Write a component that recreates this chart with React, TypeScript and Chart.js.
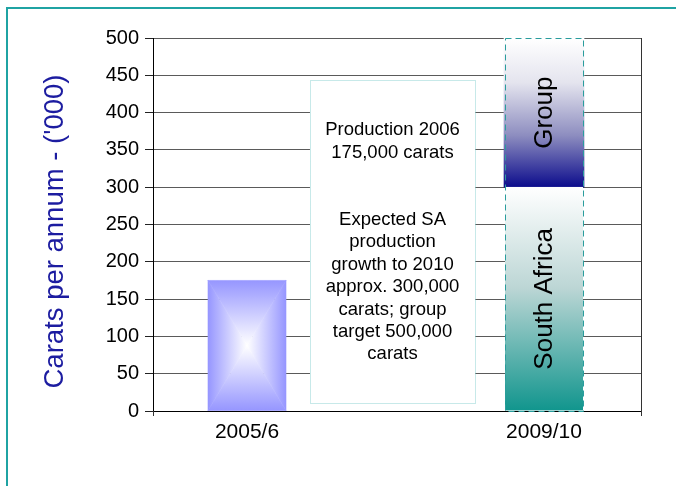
import React, { useEffect, useRef } from "react";
import { Chart, registerables } from "chart.js";

Chart.register(...registerables);

// Categories along the x axis and the values drawn for each.
const categories = ["2005/6", "2009/10"];
const production2006 = [175, null];
const southAfrica = [null, 300];
const groupTarget = [null, 200];
const yTickValues = [0, 50, 100, 150, 200, 250, 300, 350, 400, 450, 500];
const yTitle = "Carats per annum - ('000)";
const noteLines = [
  "Production 2006",
  "175,000 carats",
  "",
  "",
  "Expected SA",
  "production",
  "growth to 2010",
  "approx. 300,000",
  "carats; group",
  "target 500,000",
  "carats",
];

const FONT = "'Liberation Sans', Arial, sans-serif";
const TEAL = "#1fa3a3";

const toPoints = (arr: (number | null)[]) =>
  arr
    .map((v, i) => (v === null ? null : { x: i, y: v }))
    .filter((p) => p !== null) as { x: number; y: number }[];

// Fill a rectangle with a "from centre" gradient: edge colour fading to the centre colour.
function fillRectGradient(
  ctx: CanvasRenderingContext2D,
  l: number,
  t: number,
  r: number,
  b: number,
  edge: string,
  center: string
) {
  const cx = (l + r) / 2;
  const cy = (t + b) / 2;
  const parts: [number, number, number, number, CanvasGradient][] = [
    [l, t, r, t, ctx.createLinearGradient(0, t, 0, cy)],
    [r, b, l, b, ctx.createLinearGradient(0, b, 0, cy)],
    [l, t, l, b, ctx.createLinearGradient(l, 0, cx, 0)],
    [r, t, r, b, ctx.createLinearGradient(r, 0, cx, 0)],
  ];
  for (const [x1, y1, x2, y2, g] of parts) {
    g.addColorStop(0, edge);
    g.addColorStop(1, center);
    ctx.fillStyle = g;
    ctx.strokeStyle = g;
    ctx.lineWidth = 0.6;
    ctx.beginPath();
    ctx.moveTo(x1, y1);
    ctx.lineTo(x2, y2);
    ctx.lineTo(cx, cy);
    ctx.closePath();
    ctx.fill();
    ctx.stroke();
  }
}

const decorPlugin = {
  id: "decor",
  beforeDraw(chart: any) {
    const ctx: CanvasRenderingContext2D = chart.ctx;
    ctx.save();
    // teal frame along the left and top edges
    ctx.strokeStyle = TEAL;
    ctx.lineWidth = 2;
    ctx.beginPath();
    ctx.moveTo(7, chart.height);
    ctx.lineTo(7, 8);
    ctx.lineTo(chart.width, 8);
    ctx.stroke();

    // y axis title
    const area = chart.chartArea;
    ctx.fillStyle = "#1c1ca0";
    ctx.font = `27.5px ${FONT}`;
    ctx.textAlign = "center";
    ctx.textBaseline = "middle";
    ctx.translate(55, (area.top + area.bottom) / 2 + 7);
    ctx.rotate(-Math.PI / 2);
    ctx.fillText(yTitle, 0, 0);
    ctx.restore();
  },
  afterDatasetDraw(chart: any, args: any) {
    if (args.index !== 0) return;
    const ctx: CanvasRenderingContext2D = chart.ctx;
    const meta = chart.getDatasetMeta(0);
    ctx.save();
    for (const el of meta.data) {
      const { x, y, base, width } = el.getProps(["x", "y", "base", "width"], true);
      fillRectGradient(ctx, x - width / 2, y, x + width / 2, base, "#9696ff", "#ffffff");
    }
    ctx.restore();
  },
  afterDatasetsDraw(chart: any) {
    const ctx: CanvasRenderingContext2D = chart.ctx;
    const xs = chart.scales.x;
    const ys = chart.scales.y;
    const area = chart.chartArea;
    ctx.save();

    // right frame of the plot and small end ticks below the axis
    ctx.strokeStyle = "#333";
    ctx.lineWidth = 1;
    ctx.beginPath();
    ctx.moveTo(area.right + 0.5, area.top);
    ctx.lineTo(area.right + 0.5, area.bottom + 5);
    ctx.moveTo(area.left + 0.5, area.bottom);
    ctx.lineTo(area.left + 0.5, area.bottom + 5);
    ctx.stroke();

    // note box between the two columns
    const bx0 = xs.getPixelForValue(0.212);
    const bx1 = xs.getPixelForValue(0.768);
    const by0 = ys.getPixelForValue(444);
    const by1 = ys.getPixelForValue(11);
    ctx.fillStyle = "#ffffff";
    ctx.fillRect(bx0, by0, bx1 - bx0, by1 - by0);
    ctx.strokeStyle = "#8fd3d3";
    ctx.setLineDash([1, 1]);
    ctx.strokeRect(Math.round(bx0) + 0.5, Math.round(by0) + 0.5, Math.round(bx1 - bx0), Math.round(by1 - by0));
    ctx.setLineDash([]);
    ctx.fillStyle = "#000";
    ctx.font = `18.5px ${FONT}`;
    ctx.textAlign = "center";
    ctx.textBaseline = "middle";
    const lh = 22.4;
    const cx = (bx0 + bx1) / 2;
    const cy = (by0 + by1) / 2 + 1;
    noteLines.forEach((line, i) => {
      ctx.fillText(line, cx, cy + (i - (noteLines.length - 1) / 2) * lh);
    });

    // dashed outline of the 2009/10 column and rotated segment labels
    const saMeta = chart.getDatasetMeta(1);
    const grMeta = chart.getDatasetMeta(2);
    saMeta.data.forEach((saEl: any, i: number) => {
      const sa = saEl.getProps(["x", "y", "base", "width"], true);
      const gr = grMeta.data[i].getProps(["x", "y", "base", "width"], true);
      ctx.strokeStyle = "#2a9d9d";
      ctx.lineWidth = 1;
      ctx.setLineDash([6, 4]);
      ctx.strokeRect(
        Math.round(sa.x - sa.width / 2) + 0.5,
        Math.round(gr.y) + 0.5,
        Math.round(sa.width),
        Math.round(sa.base - gr.y)
      );
      ctx.setLineDash([]);

      ctx.fillStyle = "#000";
      ctx.font = `26px ${FONT}`;
      ctx.textAlign = "center";
      ctx.textBaseline = "middle";
      const drawRot = (text: string, x: number, y: number) => {
        ctx.save();
        ctx.translate(x, y);
        ctx.rotate(-Math.PI / 2);
        ctx.fillText(text, 0, 1);
        ctx.restore();
      };
      drawRot(chart.data.datasets[2].label, gr.x, (gr.y + gr.base) / 2);
      drawRot(chart.data.datasets[1].label, sa.x, (sa.y + sa.base) / 2);
    });
    ctx.restore();
  },
};

export default function App() {
  const canvasRef = useRef<HTMLCanvasElement | null>(null);

  useEffect(() => {
    if (!canvasRef.current) return;

    const stackGradient = (fromVal: (c: any) => number, toVal: (c: any) => number, stops: [number, string][]) =>
      (c: any) => {
        const ys = c.chart.scales?.y;
        if (!ys || c.parsed == null) return stops[stops.length - 1][1];
        const top = ys.getPixelForValue(toVal(c));
        const bottom = ys.getPixelForValue(fromVal(c));
        if (!isFinite(top) || !isFinite(bottom)) return stops[stops.length - 1][1];
        const g = c.chart.ctx.createLinearGradient(0, top, 0, bottom);
        stops.forEach(([o, col]) => g.addColorStop(o, col));
        return g;
      };

    const chart = new Chart(canvasRef.current, {
      type: "bar",
      data: {
        datasets: [
          {
            label: "Production 2006",
            data: toPoints(production2006),
            backgroundColor: "rgba(0,0,0,0)",
            barThickness: 78,
          },
          {
            label: "South Africa",
            data: toPoints(southAfrica),
            backgroundColor: stackGradient(
              () => 0,
              (c) => c.parsed.y,
              [
                [0, "#ffffff"],
                [0.45, "#bcd6d5"],
                [1, "#10958d"],
              ]
            ),
            borderColor: "#ffffff",
            borderWidth: { top: 3, left: 0, right: 0, bottom: 0 },
            borderSkipped: false,
            barThickness: 78,
          },
          {
            label: "Group",
            data: toPoints(groupTarget),
            backgroundColor: stackGradient(
              (c) => southAfrica[c.parsed.x] ?? 0,
              (c) => (southAfrica[c.parsed.x] ?? 0) + c.parsed.y,
              [
                [0, "#ffffff"],
                [0.3, "#e4e4ee"],
                [0.65, "#8e8ec0"],
                [1, "#0c0c8c"],
              ]
            ),
            barThickness: 80,
          },
        ],
      },
      options: {
        animation: false,
        responsive: false,
        layout: { padding: { top: 38, right: 35, left: 0, bottom: 0 } },
        plugins: {
          legend: { display: false },
          tooltip: { enabled: false },
        },
        scales: {
          x: {
            type: "linear",
            stacked: true,
            offset: false,
            min: -0.3165,
            max: 1.3266,
            afterBuildTicks: (scale: any) => {
              scale.ticks = categories.map((_, i) => ({ value: i }));
            },
            afterFit: (scale: any) => {
              scale.height = 75;
            },
            grid: { display: false },
            border: { display: true, color: "#000", width: 1 },
            ticks: {
              autoSkip: false,
              maxRotation: 0,
              padding: 1,
              color: "#000",
              font: { family: FONT, size: 21 },
              callback: (v: any) => categories[v] ?? "",
            },
          },
          y: {
            stacked: true,
            min: 0,
            max: 500,
            afterBuildTicks: (scale: any) => {
              scale.ticks = yTickValues.map((v) => ({ value: v }));
            },
            afterFit: (scale: any) => {
              scale.width = 153;
            },
            grid: {
              color: "#5a5a5a",
              lineWidth: 1,
              drawTicks: true,
              tickLength: 8,
              tickColor: "#222",
            },
            border: { display: true, color: "#000", width: 1 },
            ticks: {
              padding: 6,
              color: "#000",
              font: { family: FONT, size: 20 },
            },
            title: { display: false },
          },
        },
      },
      plugins: [decorPlugin],
    });

    return () => chart.destroy();
  }, []);

  return (
    <div style={{ position: "fixed", left: 0, top: 0, width: 676, height: 486, background: "#fff" }}>
      <canvas ref={canvasRef} width={676} height={486} style={{ display: "block" }} />
    </div>
  );
}
